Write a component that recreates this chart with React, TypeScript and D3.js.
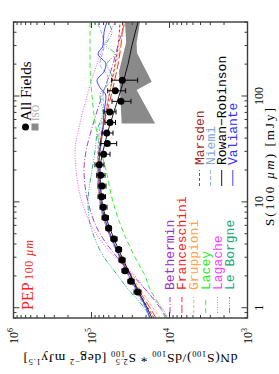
import { useRef, useEffect } from "react";
import * as d3 from "d3";

// the figure is drawn upright in a W x H box and then turned 90deg counter-clockwise
const W = 374;
const H = 279;
const serif = "'Liberation Serif', 'Times New Roman', serif";
const mono = "'Liberation Mono', 'Courier New', monospace";

// PEP 100um differential counts, all fields
const pepFlux = [1.41, 1.78, 2.24, 2.82, 3.55, 4.47, 5.62, 7.08, 8.91, 11.2, 14.1, 17.8, 22.4, 28.2, 35.5, 44.7, 56.2, 70.8, 89.1, 112, 141];
const pepCounts = [25600, 31200, 37200, 40600, 44800, 51500, 60200, 66500, 70600, 74000, 73300, 76200, 79400, 69800, 62700, 63800, 57900, 58400, 41900, 49500, 40300];
const pepUpper = [28500, 34100, 40600, 44400, 48500, 56200, 65200, 73300, 77800, 82500, 82500, 85800, 90200, 80100, 76200, 73300, 67100, 69200, 54600, 61900, 55100];
const pepLower = [23200, 28500, 34100, 37200, 41200, 47100, 55400, 60500, 63300, 66200, 65200, 67100, 69200, 57900, 47500, 53000, 49200, 48500, 31200, 36500, 25600];

// ISO shaded region
const isoLowFlux = [55, 114, 136, 255, 316, 500];
const isoLow = [15300, 26400, 16900, 26100, 26400, 23900];
const isoHighFlux = [55, 170, 320, 500];
const isoHigh = [41000, 44400, 36000, 37200];

// models
const modelFlux = [0.8, 1, 1.5, 2, 3, 5, 10, 20, 30, 50, 100, 200, 300, 500];
const bethermin = [10800, 13200, 20600, 29400, 47100, 77800, 110900, 124800, 117600, 98500, 73300, 53000, 45700, 37200];
const franceschini = [14900, 17800, 25300, 31200, 41900, 57900, 75500, 82500, 80100, 71200, 56200, 45700, 41900, 39500];
const gruppioni = [13200, 16300, 23900, 30300, 41900, 59700, 77800, 85000, 82500, 73300, 59700, 48500, 43100, 37200];
const lacey = [11400, 12900, 17800, 20600, 27700, 38300, 53000, 65200, 75500, 87600, 98500, 104500, 104500, 104500];
const lagache = [10400, 12500, 20600, 27700, 49900, 87600, 132300, 158000, 162800, 144700, 114200, 85000, 69100, 49900];
const marsden = [15800, 18900, 26100, 32100, 43100, 59700, 77800, 82500, 80100, 71200, 59700, 49900, 45700, 43100];
const rowanRobinson = [16800, 19400, 26100, 31200, 40600, 54600, 73300, 77800, 71200, 59700, 44400, 34000, 30300, 25300];

const leBorgneFlux = [0.8, 1, 1.5, 2, 3, 5, 7, 10, 20, 30, 50, 70, 100, 150, 200, 250, 300, 400, 500];
const leBorgne = [17800, 21200, 34000, 45700, 69100, 95700, 107700, 110900, 98500, 90200, 82500, 71200, 77800, 54600, 63300, 49900, 65200, 54600, 61400];

const niemiFlux = [0.8, 1, 1.5, 2, 3, 5, 10, 20, 30, 50, 70, 100, 150, 200, 300, 500];
const niemi = [17800, 20600, 27700, 34000, 44400, 59700, 77800, 82500, 82500, 77800, 69100, 71200, 61400, 77800, 69100, 85000];

const valianteFlux = [0.8, 1, 1.5, 2, 3, 5, 10, 20, 30, 50, 70, 100, 120, 140, 170, 200, 250, 300, 400, 500];
const valiante = [17800, 20000, 26900, 33100, 43100, 57900, 75500, 80100, 77800, 71200, 69100, 65200, 77800, 85000, 69100, 65200, 82500, 71200, 69100, 63300];

const models = [
  { name: "Bethermin", color: "#9b30c8", dash: "6,2,1,2", flux: modelFlux, counts: bethermin, col: 0, row: 0 },
  { name: "Franceschini", color: "#ff1a1a", dash: "8,3", flux: modelFlux, counts: franceschini, col: 0, row: 1 },
  { name: "Gruppioni", color: "#ffa050", dash: "3,2", flux: modelFlux, counts: gruppioni, col: 0, row: 2 },
  { name: "Lacey", color: "#22ee22", dash: "5,3", flux: modelFlux, counts: lacey, col: 0, row: 3 },
  { name: "Lagache", color: "#ff40ff", dash: "1,1.5", flux: modelFlux, counts: lagache, col: 0, row: 4 },
  { name: "Le Borgne", color: "#20a878", dash: "5,1.5,1,1.5,1,1.5,1,1.5", flux: leBorgneFlux, counts: leBorgne, col: 0, row: 5 },
  { name: "Marsden", color: "#a82828", dash: "3,2", flux: modelFlux, counts: marsden, col: 1, row: 0 },
  { name: "Niemi", color: "#80a8e0", dash: "4,2", flux: niemiFlux, counts: niemi, col: 1, row: 1 },
  { name: "Rowan\u2212Robinson", color: "#000000", dash: "", flux: modelFlux, counts: rowanRobinson, col: 1, row: 2 },
  { name: "Valiante", color: "#3030ff", dash: "", flux: valianteFlux, counts: valiante, col: 1, row: 3 },
];

function App() {
  const ref = useRef<SVGSVGElement>(null);

  useEffect(() => {
    const svg = d3.select(ref.current);
    svg.selectAll("*").remove();

    const x = d3.scaleLog().domain([0.8, 500]).range([56, 352]);
    const y = d3.scaleLog().domain([1e3, 1e6]).range([247.5, 13.5]);
    const [x0, x1] = x.range();
    const [y0, y1] = y.range();

    const g = svg.append("g").attr("transform", `translate(0,${W}) rotate(-90)`);

    g.append("defs").append("clipPath").attr("id", "frame")
      .append("rect")
      .attr("x", x0).attr("y", y1).attr("width", x1 - x0).attr("height", y0 - y1);

    const plot = g.append("g").attr("clip-path", "url(#frame)");

    // ISO band
    const iso: [number, number][] = isoLowFlux.map((f, i) => [x(f), y(isoLow[i])] as [number, number])
      .concat(isoHighFlux.map((f, i) => [x(f), y(isoHigh[i])] as [number, number]).reverse());
    plot.append("path")
      .attr("d", d3.line()(iso) + "Z")
      .attr("fill", "#8a8a8a");

    // model curves
    const line = d3.line<[number, number]>()
      .x(d => x(d[0]))
      .y(d => y(d[1]))
      .curve(d3.curveMonotoneX);
    models.forEach(m => {
      plot.append("path")
        .attr("d", line(m.flux.map((f, i) => [f, m.counts[i]] as [number, number])))
        .attr("fill", "none")
        .attr("stroke", m.color)
        .attr("stroke-width", 0.9)
        .attr("stroke-dasharray", m.dash || null);
    });

    // data with error bars
    const pts = plot.append("g").attr("stroke", "#000").attr("stroke-width", 1);
    pepFlux.forEach((f, i) => {
      const cx = x(f);
      pts.append("line").attr("x1", cx).attr("x2", cx).attr("y1", y(pepUpper[i])).attr("y2", y(pepLower[i]));
      [pepUpper[i], pepLower[i]].forEach(v => {
        pts.append("line").attr("x1", cx - 2.5).attr("x2", cx + 2.5).attr("y1", y(v)).attr("y2", y(v));
      });
    });
    plot.selectAll(".dot")
      .data(pepFlux)
      .enter().append("circle")
      .attr("class", "dot")
      .attr("cx", d => x(d))
      .attr("cy", (d, i) => y(pepCounts[i]))
      .attr("r", 3.5)
      .attr("fill", "#000");

    // frame and ticks
    const axisColor = "#3a3a3a";
    g.append("rect")
      .attr("x", x0).attr("y", y1).attr("width", x1 - x0).attr("height", y0 - y1)
      .attr("fill", "none").attr("stroke", axisColor).attr("stroke-width", 1.4);

    const isMajor = (t: number) => Math.abs(Math.log10(t) - Math.round(Math.log10(t))) < 1e-6;
    const ticks = g.append("g").attr("stroke", axisColor).attr("stroke-width", 1);
    x.ticks().forEach(t => {
      const len = isMajor(t) ? 6 : 3;
      ticks.append("line").attr("x1", x(t)).attr("x2", x(t)).attr("y1", y0).attr("y2", y0 - len);
      ticks.append("line").attr("x1", x(t)).attr("x2", x(t)).attr("y1", y1).attr("y2", y1 + len);
    });
    y.ticks().forEach(t => {
      const len = isMajor(t) ? 6 : 3;
      ticks.append("line").attr("x1", x0).attr("x2", x0 + len).attr("y1", y(t)).attr("y2", y(t));
      ticks.append("line").attr("x1", x1).attr("x2", x1 - len).attr("y1", y(t)).attr("y2", y(t));
    });

    // tick labels
    x.ticks().filter(isMajor).forEach(t => {
      g.append("text")
        .attr("x", x(t)).attr("y", 263)
        .attr("text-anchor", "middle")
        .attr("font-family", serif).attr("font-size", 12)
        .text(String(t));
    });
    y.ticks().filter(isMajor).forEach(t => {
      const txt = g.append("text")
        .attr("x", 46).attr("y", y(t)).attr("dy", "0.35em")
        .attr("text-anchor", "end")
        .attr("font-family", serif).attr("font-size", 12);
      txt.append("tspan").text("10");
      txt.append("tspan").attr("font-size", 8).attr("baseline-shift", "5").text(String(Math.round(Math.log10(t))));
    });

    // axis titles
    const xt = g.append("text")
      .attr("x", (x0 + x1) / 2 + 3).attr("y", 274)
      .attr("text-anchor", "middle")
      .attr("font-family", serif).attr("font-size", 13)
      .attr("textLength", 118).attr("lengthAdjust", "spacing");
    xt.append("tspan").text("S(100 ");
    xt.append("tspan").attr("font-style", "italic").text("\u00b5m");
    xt.append("tspan").text(") [mJy]");

    const yt = g.append("text")
      .attr("transform", `translate(20,${(y0 + y1) / 2}) rotate(-90)`)
      .attr("text-anchor", "middle")
      .attr("font-family", serif).attr("font-size", 13.5)
      .attr("textLength", 214).attr("lengthAdjust", "spacing");
    const sub = (s: string) => yt.append("tspan").attr("font-size", 8.5).attr("baseline-shift", "-3").text(s);
    const sup = (s: string) => yt.append("tspan").attr("font-size", 8.5).attr("baseline-shift", "5").text(s);
    yt.append("tspan").text("dN(S");
    sub("100");
    yt.append("tspan").text(")/dS");
    sub("100");
    yt.append("tspan").text(" * S");
    sup("2.5");
    sub("100").attr("dx", -10);
    yt.append("tspan").text(" [deg");
    sup("\u22122");
    yt.append("tspan").text(" mJy");
    sup("1.5");
    yt.append("tspan").text("]");

    // PEP label
    g.append("text")
      .attr("x", 64).attr("y", 33)
      .attr("font-family", serif).attr("font-size", 16)
      .attr("fill", "#ff2020")
      .text("PEP");
    const lam = g.append("text")
      .attr("x", 94).attr("y", 32.5)
      .attr("font-family", serif).attr("font-size", 12)
      .attr("fill", "#ff2020")
      .attr("textLength", 40).attr("lengthAdjust", "spacing");
    lam.append("tspan").text("100 ");
    lam.append("tspan").attr("font-style", "italic").text("\u00b5m");

    // data legend
    g.append("circle").attr("cx", 247).attr("cy", 25.5).attr("r", 3.5).attr("fill", "#000");
    g.append("text").attr("x", 253).attr("y", 31)
      .attr("font-family", serif).attr("font-size", 15).text("All Fields");
    g.append("rect").attr("x", 243.5).attr("y", 31.5).attr("width", 7).attr("height", 7).attr("fill", "#8a8a8a");
    g.append("text").attr("x", 253).attr("y", 38.8)
      .attr("font-family", serif).attr("font-size", 10).attr("fill", "#aaaaaa").text("ISO");

    // model legend
    const cols = [
      { lx: 61, tx: 84, base: 174, step: 11.9 },
      { lx: 188, tx: 209, base: 203.5, step: 11.1 },
    ];
    models.forEach(m => {
      const c = cols[m.col];
      const by = c.base + m.row * c.step;
      g.append("line")
        .attr("x1", c.lx).attr("x2", c.lx + 16)
        .attr("y1", by - 4).attr("y2", by - 4)
        .attr("stroke", m.color).attr("stroke-width", 0.9)
        .attr("stroke-dasharray", m.dash || null);
      g.append("text")
        .attr("x", c.tx).attr("y", by)
        .attr("font-family", mono).attr("font-size", 13)
        .attr("fill", m.color)
        .text(m.name);
    });
  }, []);

  return (
    <svg
      ref={ref}
      width={H}
      height={W}
      style={{ position: "absolute", left: 0, top: 0, background: "#fff" }}
    />
  );
}

export default App;
